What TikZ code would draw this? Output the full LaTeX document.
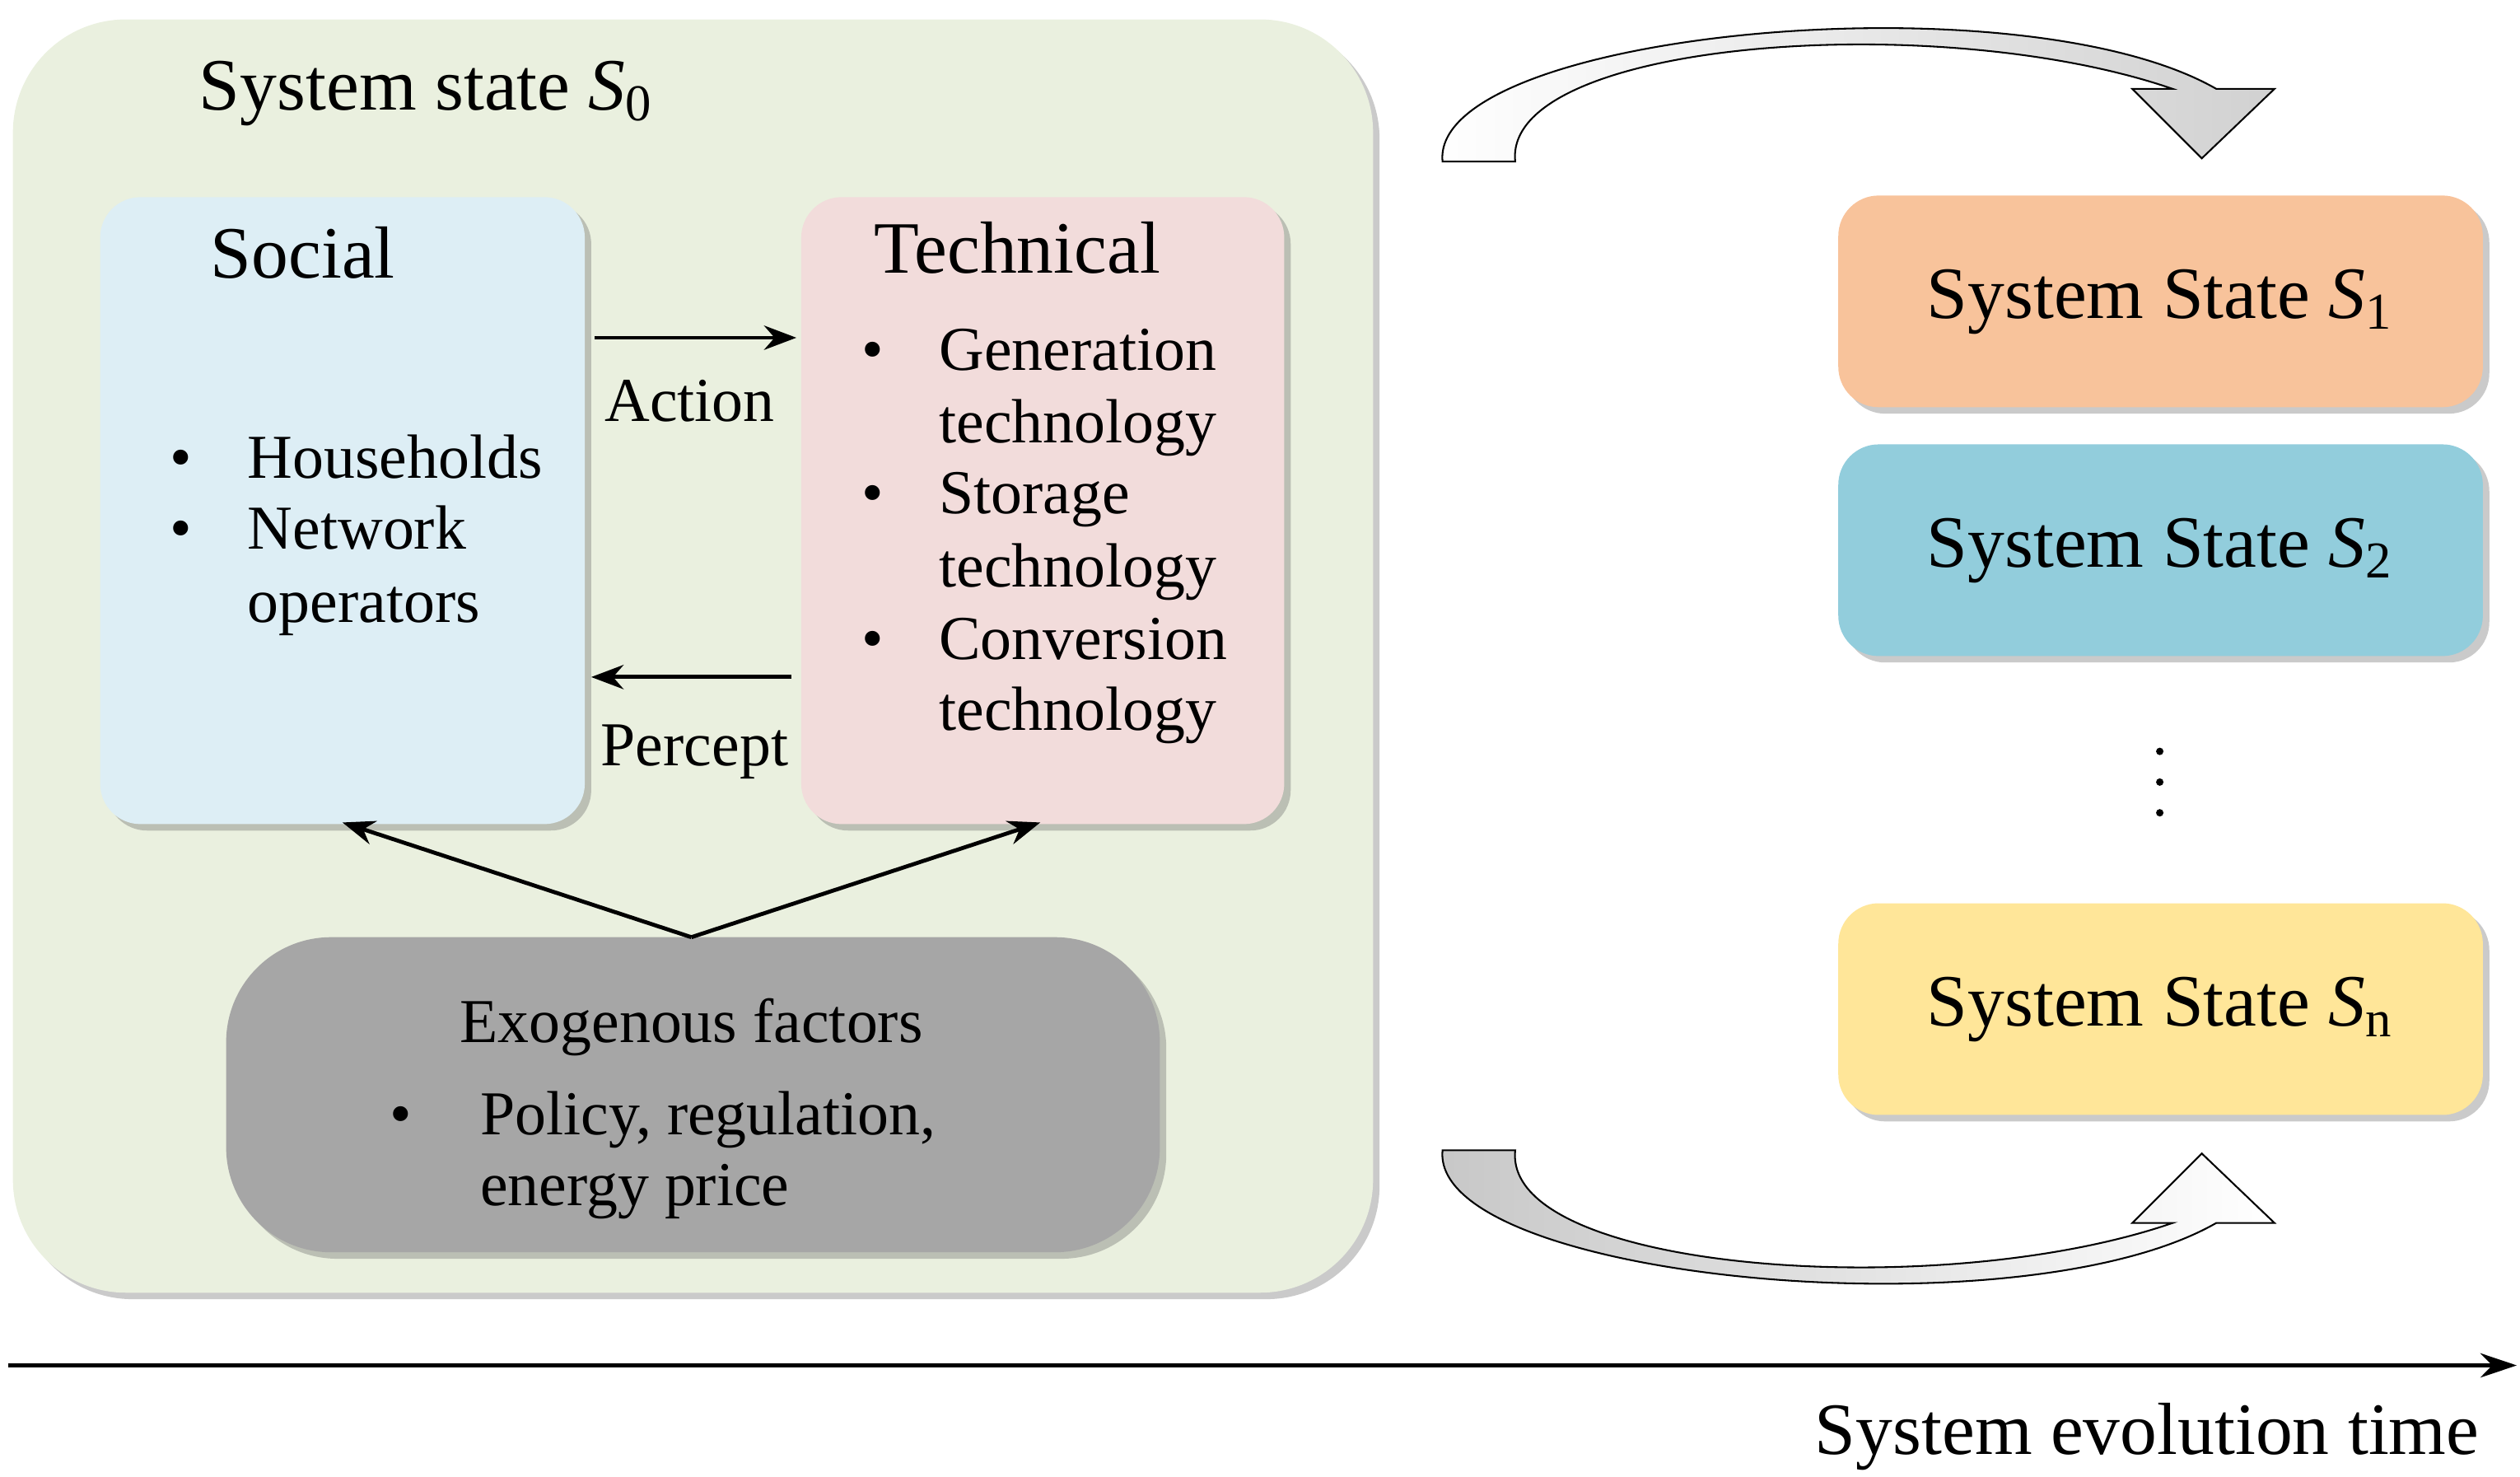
\documentclass[tikz,border=0pt]{standalone}
\usepackage{fontspec}
\setmainfont{Liberation Serif}
\usetikzlibrary{shadows,arrows.meta}
\definecolor{bggreen}{HTML}{EAF0DF}
\definecolor{socblue}{HTML}{DDEEF5}
\definecolor{techpink}{HTML}{F2DCDB}
\definecolor{exgray}{HTML}{A6A6A6}
\definecolor{sone}{HTML}{F8C39B}
\definecolor{stwo}{HTML}{92CDDC}
\definecolor{sn}{HTML}{FFE699}
\tikzset{
 box/.style={draw=none,rounded corners=0.5cm,drop shadow={shadow xshift=0.08cm,shadow yshift=-0.08cm,opacity=0.35,fill=black!60}},
 txt/.style={inner sep=0pt,anchor=base west,font=\fontsize{22}{26}\selectfont},
 ttl/.style={inner sep=0pt,anchor=base west,font=\fontsize{26}{30}\selectfont},
 st/.style={inner sep=0pt,font=\fontsize{26}{30}\selectfont},
 arr/.style={line width=1.4pt,-{Stealth[length=0.4cm,width=0.3cm]}},
 curv/.style={draw=black,line width=0.6pt}
}
\newcommand{\curvearrow}{(893,100) .. controls (885,20) and (1250,-15) .. (1372,55) -- (1408,55) -- (1363,98) -- (1320,55) -- (1345,55) .. controls (1200,5) and (930,25) .. (938,100) -- cycle}
\begin{document}
\begin{tikzpicture}[x=0.02cm,y=-0.02cm]
\useasboundingbox (0,0) rectangle (1560,914);
% outer
\path[box,fill=bggreen,rounded corners=1.4cm] (8,12) rectangle (850,800);
\path[box,fill=socblue] (62,122) rectangle (362,510);
\path[box,fill=techpink] (496,122) rectangle (795,510);
\path[box,fill=exgray,rounded corners=1.3cm] (140,580) rectangle (718,775);
\node[ttl] (title) at (123,68) {System state \textit{S}\textsubscript{0}};
\node[ttl] (soc) at (130,172) {Social};
\node[ttl] (tech) at (541,169) {Technical};
\foreach \t/\y in {Households/296,Network/340}{\node[txt] at (105,\y) {•}; \node[txt] at (153,\y) {\t};}
\node[txt] at (153,385) {operators};
\node[txt] at (533,229) {•}; \node[txt] at (581,229) {Generation};
\node[txt] at (581,274) {technology};
\node[txt] at (533,318) {•}; \node[txt] at (581,318) {Storage};
\node[txt] at (581,363) {technology};
\node[txt] at (533,408) {•}; \node[txt] at (581,408) {Conversion};
\node[txt] at (581,452) {technology};
\node[inner sep=0pt,anchor=base,font=\fontsize{22}{26}\selectfont] (exo) at (428,645) {Exogenous factors};
\node[txt] at (241,702) {•}; \node[txt] at (297,702) {Policy, regulation,};
\node[txt] at (297,746) {energy price};
\coordinate (a1) at (368,209); \coordinate (a2) at (493,209);
\coordinate (p1) at (490,419); \coordinate (p2) at (366,419);
\draw[arr] (a1) -- (a2);
\draw[arr] (p1) -- (p2);
\node[txt,anchor=base] (act) at (427,261) {Action};
\node[txt,anchor=base] (per) at (430,474) {Percept};
\coordinate (e0) at (428,580); \coordinate (es) at (212,509); \coordinate (et) at (644,509);
\draw[arr] (e0) -- (es);
\draw[arr] (e0) -- (et);
% states
\path[box,fill=sone] (1138,121) rectangle (1537,252);
\path[box,fill=stwo] (1138,275) rectangle (1537,406);
\path[box,fill=sn] (1138,559) rectangle (1537,690);
\node[st] (s1) at (1337,187) {System State \textit{S}\textsubscript{1}};
\node[st] (s2) at (1337,341) {System State \textit{S}\textsubscript{2}};
\node[st] (sn) at (1337,625) {System State \textit{S}\textsubscript{n}};
\foreach \y in {465,484,503} \fill (1337,\y) circle (2.3);
% curved arrows
\shade[curv,left color=white,right color=black!18] \curvearrow;
\begin{scope}[yshift=-16.24cm,yscale=-1]
\shade[curv,left color=black!22,right color=white] \curvearrow;
\end{scope}
% time axis
\coordinate (t0) at (5,845); \coordinate (t1) at (1558,845);
\draw[line width=1.4pt,-{Stealth[length=0.45cm,width=0.3cm]}] (t0) -- (t1);
\node[st,anchor=base east] (tl) at (1535,900) {System evolution time};
\end{tikzpicture}
\end{document}
